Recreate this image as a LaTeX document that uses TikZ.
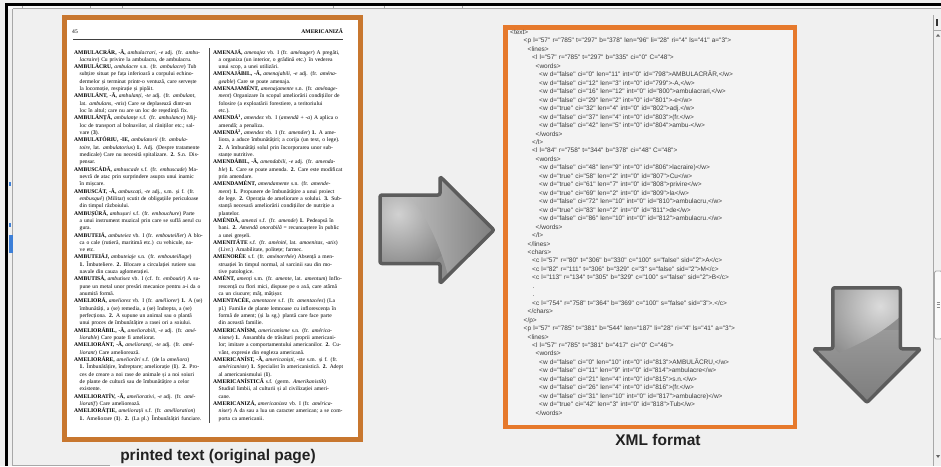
\documentclass[tikz,border=0pt]{standalone}
\usepackage{fontspec}
\usepackage{graphicx}
\newfontfamily\pagefont{Liberation Serif}
\newfontfamily\xmlfont{Liberation Sans}
\newfontfamily\capfont{Liberation Sans}
\definecolor{bg}{HTML}{F0F0F0}
\definecolor{pageorange}{HTML}{C8772F}
\definecolor{xmlorange}{HTML}{E6792C}
\definecolor{xmlfill}{HTML}{F3F3F3}
\definecolor{xmltextc}{HTML}{3A3A3A}
\definecolor{capc}{HTML}{222222}
\definecolor{arrowdark}{HTML}{5C5C5C}
\definecolor{uigrey}{HTML}{A8A8A8}
\definecolor{uiblue}{HTML}{3C7FD8}
\newlength\colw \setlength\colw{130pt}
\newlength\hangw \setlength\hangw{5.5pt}
\newlength\contw \setlength\contw{124.5pt}
\newsavebox\lnbox
\newcommand\fitline[3]{%
  \sbox\lnbox{#3}%
  \ifdim\wd\lnbox>#1\relax
    \resizebox{#1}{\height}{\usebox\lnbox}%
  \else
    \ifnum#2=0 \hbox to #1{\unhcopy\lnbox}\else\hbox to #1{\unhcopy\lnbox\hfil}\fi
  \fi}
\newcommand\lnF[1]{\noindent\fitline{\colw}{0}{#1}\par}
\newcommand\lnC[1]{\noindent\hspace*{\hangw}\fitline{\contw}{0}{#1}\par}
\newcommand\lnE[1]{\noindent\hspace*{\hangw}\fitline{\contw}{1}{#1}\par}
\newcommand\xind[1]{\hspace*{#1pt}}
\begin{document}
\begin{tikzpicture}[x=1pt,y=-1pt,
  pagebox/.style={draw=pageorange,line width=5pt,fill=white},
  xmlbox/.style={draw=xmlorange,line width=4.5pt,fill=xmlfill},
  captxt/.style={font=\capfont\bfseries\fontsize{15.5}{18}\selectfont,text=capc,inner sep=0pt,anchor=base},
  coltxt/.style={anchor=base west,inner sep=0pt,text width=130pt,font=\pagefont\fontsize{5.6}{7.32}\selectfont},
  hdrtxt/.style={inner sep=0pt,font=\pagefont\fontsize{5.6}{6.5}\selectfont},
  xmltxt/.style={anchor=base west,inner sep=0pt,text width=280pt,align=left,font=\xmlfont\fontsize{6.5}{8.46}\selectfont,text=xmltextc},
  arrowrim/.style={draw=arrowdark,line width=3.5pt,line join=round,rounded corners=2pt},
  uiline/.style={draw=uigrey,line width=0.8pt}]
\useasboundingbox (0,0) rectangle (941,466);
\fill[bg] (0,0) rectangle (941,466);

% window chrome
\fill[white!60!bg] (8,5.8) rectangle (941,8.8);
\fill[black] (5,3.2) rectangle (941,5.8);
\fill[black] (5.2,3.2) rectangle (8,466);
\draw[uiline] (12.5,8.8) -- (12.5,466);
\draw[uiline] (12.5,8.8) -- (941,8.8);
\foreach \tx in {22,90,122,333,384,462} \draw[uiline] (\tx,5.8) -- (\tx,8.8);
\fill[uiblue] (9.3,235) rectangle (13,253);
\fill[uiblue] (9.3,182) rectangle (10.5,186);
\fill[uiblue] (9.3,223) rectangle (10.5,227);
\draw[uiline] (13,465) -- (110,465);
\draw[uiline] (933,15) -- (933,466);
\draw[uiline] (933,30) -- (941,30);
\fill[black!80] (935.5,19) rectangle (937.5,26);
\fill[black!60] (936,36.5) -- (938,34) -- (940,36.5) -- cycle;
\draw[uiline,fill=white!70!bg,rounded corners=1.5pt] (934.5,271) rectangle (942,339);
\foreach \gy in {302,304.5,307} \draw[draw=black!45,line width=.5pt] (936.5,\gy) -- (939.5,\gy);
\fill[black!60] (936,455) -- (940,455) -- (938,458) -- cycle;

% printed page
\draw[pagebox] (64.5,17.5) rectangle (360.5,439.5);
\node[hdrtxt,anchor=base west] (pgno) at (72,33) {45};
\node[hdrtxt,anchor=base east,font=\pagefont\bfseries\fontsize{5.6}{6.5}\selectfont] (hdr) at (343,33) {AMERICANIZĂ};
\draw[line width=.9pt,black!75] (73,39.5) -- (343,39.5);
\draw[line width=.6pt,black!70] (209,48) -- (209,423);

\node[coltxt] (colL) at (74,54) {%
\lnF{\textbf{AMBULACRÁR, -Ă,} \textit{ambulacrari, -e} adj. (fr. \textit{ambu-}}
\lnE{\textit{lacraire}) Cu privire la ambulacru, de ambulacru.}
\lnF{\textbf{AMBULÁCRU,} \textit{ambulacre} s.n. (fr. \textit{ambulacre}) Tub}
\lnC{subțire situat pe fața inferioară a corpului echino-}
\lnC{dermelor și terminat printr-o ventuză, care servește}
\lnE{la locomoție, respirație și pipăit.}
\lnF{\textbf{AMBULÁNT, -Ă,} \textit{ambulanți, -te} adj. (fr. \textit{ambulant,}}
\lnC{lat. \textit{ambulans, -ntis}) Care se deplasează dintr-un}
\lnE{loc în altul; care nu are un loc de reședință fix.}
\lnF{\textbf{AMBULÁNȚĂ,} \textit{ambulanțe} s.f. (fr. \textit{ambulance}) Mij-}
\lnC{loc de transport al bolnavilor, al răniților etc.; sal-}
\lnE{vare (\textbf{3}).}
\lnF{\textbf{AMBULATÓRIU, -IE,} \textit{ambulatorii} (fr. \textit{ambula-}}
\lnC{\textit{toire,} lat. \textit{ambulatorius}) \textbf{1.} Adj. (Despre tratamente}
\lnC{medicale) Care nu necesită spitalizare. \textbf{2.} S.n. Dis-}
\lnE{pensar.}
\lnF{\textbf{AMBUSCÁDĂ,} \textit{ambuscade} s.f. (fr. \textit{embuscade}) Ma-}
\lnC{nevră de atac prin surprindere asupra unui inamic}
\lnE{în mișcare.}
\lnF{\textbf{AMBUSCÁT, -Ă,} \textit{ambuscați, -te} adj., s.m. și f. (fr.}
\lnC{\textit{embusqué}) (Militar) scutit de obligațiile periculoase}
\lnE{din timpul războiului.}
\lnF{\textbf{AMBUȘÚRĂ,} \textit{ambușuri} s.f. (fr. \textit{embouchure}) Parte}
\lnC{a unui instrument muzical prin care se suflă aerul cu}
\lnE{gura.}
\lnF{\textbf{AMBUTEIÁ,} \textit{ambuteiez} vb. I (fr. \textit{embouteiller}) A blo-}
\lnC{ca o cale (rutieră, maritimă etc.) cu vehicule, na-}
\lnE{ve etc.}
\lnF{\textbf{AMBUTEIÁJ,} \textit{ambuteiaje} s.n. (fr. \textit{embouteillage})}
\lnC{\textbf{1.} Îmbuteliere. \textbf{2.} Blocare a circulației rutiere sau}
\lnE{navale din cauza aglomerației.}
\lnF{\textbf{AMBUTISÁ,} \textit{ambutisez} vb. I (cf. fr. \textit{emboutir}) A su-}
\lnC{pune un metal unor presări mecanice pentru a-i da o}
\lnE{anumită formă.}
\lnF{\textbf{AMELIORÁ,} \textit{ameliorez} vb. I (fr. \textit{améliorer}) \textbf{1.} A (se)}
\lnC{îmbunătăți, a (se) remedia, a (se) îndrepta, a (se)}
\lnC{perfecționa. \textbf{2.} A supune un animal sau o plantă}
\lnE{unui proces de îmbunătățire a rasei ori a soiului.}
\lnF{\textbf{AMELIORÁBIL, -Ă,} \textit{ameliorabili, -e} adj. (fr. \textit{amé-}}
\lnE{\textit{liorable}) Care poate fi ameliorat.}
\lnF{\textbf{AMELIORÁNT, -Ă,} \textit{amelioranți, -te} adj. (fr. \textit{amé-}}
\lnE{\textit{liorant}) Care ameliorează.}
\lnF{\textbf{AMELIORÁRE,} \textit{ameliorări} s.f. (de la \textit{ameliora})}
\lnC{\textbf{1.} Îmbunătățire, îndreptare; ameliorație (\textbf{1}). \textbf{2.} Pro-}
\lnC{ces de creare a noi rase de animale și a noi soiuri}
\lnC{de plante de cultură sau de îmbunătățire a celor}
\lnE{existente.}
\lnF{\textbf{AMELIORATÍV, -Ă,} \textit{ameliorativi, -e} adj. (fr. \textit{amé-}}
\lnE{\textit{lioratif}) Care ameliorează.}
\lnF{\textbf{AMELIORÁȚIE,} \textit{ameliorații} s.f. (fr. \textit{amélioration})}
\lnE{\textbf{1.} Ameliorare (\textbf{1}). \textbf{2.} (La pl.) Îmbunătățiri funciare.}
};

\node[coltxt] (colR) at (213,54) {%
\lnF{\textbf{AMENAJÁ,} \textit{amenajez} vb. I (fr. \textit{aménager}) A pregăti,}
\lnC{a organiza (un interior, o grădină etc.) în vederea}
\lnE{unui scop, a unei utilizări.}
\lnF{\textbf{AMENAJÁBIL, -Ă,} \textit{amenajabili, -e} adj. (fr. \textit{aména-}}
\lnE{\textit{geable}) Care se poate amenaja.}
\lnF{\textbf{AMENAJAMÉNT,} \textit{amenajamente} s.n. (fr. \textit{aménage-}}
\lnC{\textit{ment}) Organizare în scopul ameliorării condițiilor de}
\lnC{folosire (a exploatării forestiere, a teritoriului}
\lnE{etc.).}
\lnF{\textbf{AMENDÁ\textsuperscript{1},} \textit{amendez} vb. I (\textit{amendă} + \textit{-a}) A aplica o}
\lnE{amendă; a penaliza.}
\lnF{\textbf{AMENDÁ\textsuperscript{2},} \textit{amendez} vb. I (fr. \textit{amender}) \textbf{1.} A ame-}
\lnC{liora, a aduce îmbunătățiri; a corija (un text, o lege).}
\lnC{\textbf{2.} A îmbunătăți solul prin încorporarea unor sub-}
\lnE{stanțe nutritive.}
\lnF{\textbf{AMENDÁBIL, -Ă,} \textit{amendabili, -e} adj. (fr. \textit{amenda-}}
\lnC{\textit{ble}) \textbf{1.} Care se poate amenda. \textbf{2.} Care este modificat}
\lnE{prin amendare.}
\lnF{\textbf{AMENDAMÉNT,} \textit{amendamente} s.n. (fr. \textit{amende-}}
\lnC{\textit{ment}) \textbf{1.} Propunere de îmbunătățire a unui proiect}
\lnC{de lege. \textbf{2.} Operația de ameliorare a solului. \textbf{3.} Sub-}
\lnC{stanță necesară ameliorării condițiilor de nutriție a}
\lnE{plantelor.}
\lnF{\textbf{AMÉNDĂ,} \textit{amenzi} s.f. (fr. \textit{amende}) \textbf{1.} Pedeapsă în}
\lnC{bani. \textbf{2.} \textit{Amendă onorabilă} = recunoaștere în public}
\lnE{a unei greșeli.}
\lnF{\textbf{AMENITÁTE} s.f. (fr. \textit{aménité}, lat. \textit{amoenitas, -atis})}
\lnE{(Livr.) Amabilitate, politețe; farmec.}
\lnF{\textbf{AMENORÉE} s.f. (fr. \textit{aménorrhée}) Absență a men-}
\lnC{struației în timpul normal, al sarcinii sau din mo-}
\lnE{tive patologice.}
\lnF{\textbf{AMÉNT,} \textit{amenți} s.m. (fr. \textit{amente}, lat. \textit{amentum}) Inflo-}
\lnC{rescență cu flori mici, dispuse pe o axă, care atârnă}
\lnE{ca un ciucure; mâț, mâțișor.}
\lnF{\textbf{AMENTACÉE,} \textit{amentacee} s.f. (fr. \textit{amentacées}) (La}
\lnC{pl.) Familie de plante lemnoase cu inflorescența în}
\lnC{formă de ament; (și la sg.) plantă care face parte}
\lnE{din această familie.}
\lnF{\textbf{AMERICANÍSM,} \textit{americanisme} s.n. (fr. \textit{américa-}}
\lnC{\textit{nisme}) \textbf{1.} Ansamblu de trăsături proprii americani-}
\lnC{lor; imitare a comportamentului americanilor. \textbf{2.} Cu-}
\lnE{vânt, expresie din engleza americană.}
\lnF{\textbf{AMERICANÍST, -Ă,} \textit{americaniști, -ste} s.m. și f. (fr.}
\lnC{\textit{américaniste}) \textbf{1.} Specialist în americanistică. \textbf{2.} Adept}
\lnE{al americanismului (\textbf{1}).}
\lnF{\textbf{AMERICANÍSTICĂ} s.f. (germ. \textit{Amerikanistik})}
\lnC{Studiul limbii, al culturii și al civilizației ameri-}
\lnE{cane.}
\lnF{\textbf{AMERICANIZÁ,} \textit{americanizez} vb. I (fr. \textit{américa-}}
\lnC{\textit{niser}) A da sau a lua un caracter american; a se com-}
\lnE{porta ca americanii.}
};

\node[captxt] (capL) at (218,460) {printed text (original page)};

% XML box
\draw[xmlbox] (505.25,27.25) rectangle (794.75,426.75);
\node[xmltxt] (xml) at (510,34.5) {%
<text>\\
\xind{13.5}<p l="57" r="785" t="297" b="378" len="96" li="28" ri="4" ls="41" a="3">\\
\xind{17.5}<lines>\\
\xind{22}<l l="57" r="785" t="297" b="335" ci="0" C="48">\\
\xind{25.5}<words>\\
\xind{29}<w d="false" ci="0" len="11" int="0" id="798">AMBULACRĂR,</w>\\
\xind{29}<w d="false" ci="12" len="3" int="0" id="799">-A,</w>\\
\xind{29}<w d="false" ci="16" len="12" int="0" id="800">ambulacrari,</w>\\
\xind{29}<w d="false" ci="29" len="2" int="0" id="801">-e</w>\\
\xind{29}<w d="true" ci="32" len="4" int="0" id="802">adj.</w>\\
\xind{29}<w d="false" ci="37" len="4" int="0" id="803">(fr.</w>\\
\xind{29}<w d="false" ci="42" len="5" int="0" id="804">ambu-</w>\\
\xind{25.5}</words>\\
\xind{22}</l>\\
\xind{22}<l l="84" r="758" t="344" b="378" ci="48" C="48">\\
\xind{25.5}<words>\\
\xind{29}<w d="false" ci="48" len="9" int="0" id="806">lacraire)</w>\\
\xind{29}<w d="true" ci="58" len="2" int="0" id="807">Cu</w>\\
\xind{29}<w d="true" ci="61" len="7" int="0" id="808">privire</w>\\
\xind{29}<w d="true" ci="69" len="2" int="0" id="809">la</w>\\
\xind{29}<w d="false" ci="72" len="10" int="0" id="810">ambulacru,</w>\\
\xind{29}<w d="true" ci="83" len="2" int="0" id="811">de</w>\\
\xind{29}<w d="false" ci="86" len="10" int="0" id="812">ambulacru.</w>\\
\xind{25.5}</words>\\
\xind{22}</l>\\
\xind{17.5}</lines>\\
\xind{17.5}<chars>\\
\xind{22}<c l="57" r="80" t="306" b="330" c="100" s="false" sid="2">A</c>\\
\xind{22}<c l="82" r="111" t="306" b="329" c="3" s="false" sid="2">M</c>\\
\xind{22}<c l="113" r="134" t="305" b="329" c="100" s="false" sid="2">B</c>\\
\xind{22.5}.\\
\xind{22.5}.\\
\xind{22}<c l="754" r="758" t="364" b="369" c="100" s="false" sid="3">.</c>\\
\xind{17.5}</chars>\\
\xind{13.5}</p>\\
\xind{13.5}<p l="57" r="785" t="381" b="544" len="187" li="28" ri="4" ls="41" a="3">\\
\xind{17.5}<lines>\\
\xind{22}<l l="57" r="785" t="381" b="417" ci="0" C="46">\\
\xind{25.5}<words>\\
\xind{29}<w d="false" ci="0" len="10" int="0" id="813">AMBULĂCRU,</w>\\
\xind{29}<w d="false" ci="11" len="9" int="0" id="814">ambulacre</w>\\
\xind{29}<w d="false" ci="21" len="4" int="0" id="815">s.n.</w>\\
\xind{29}<w d="false" ci="26" len="4" int="0" id="816">(fr.</w>\\
\xind{29}<w d="false" ci="31" len="10" int="0" id="817">ambulacre)</w>\\
\xind{29}<w d="true" ci="42" len="3" int="0" id="818">Tub</w>\\
\xind{25.5}</words>
};
\node[captxt] (capR) at (658,445) {XML format};

% right arrow
\def\rarrow{(380,195) -- (440,195) -- (440,176.5) -- (494,230) -- (440,283.5) -- (440,263.5) -- (380,263.5) -- cycle}
\fill[black!45] \rarrow;
\begin{scope}
  \clip \rarrow;
  \shade[inner color=black!18, outer color=black!48] (398,214) circle (60);
  \shade[left color=black!25, right color=black!52]
    (403,188) .. controls (425,212) and (442,245) .. (452,292) -- (500,292) -- (500,170) -- cycle;
\end{scope}
\draw[arrowrim] \rarrow;

% down arrow
\def\darrow{(832.75,287.75) -- (900.25,287.75) -- (900.25,348.75) -- (920.5,348.75) -- (867,402.5) -- (813.5,348.75) -- (832.75,348.75) -- cycle}
\fill[black!44] \darrow;
\begin{scope}
  \clip \darrow;
  \shade[top color=black!40, bottom color=black!52] (810,330) rectangle (925,410);
  \begin{scope}
    \clip (825,280) -- (905,280) -- (905,312) .. controls (880,336) and (855,346) .. (822,360) -- cycle;
    \shade[inner color=black!14, outer color=black!45] (880,306) circle (62);
  \end{scope}
\end{scope}
\draw[arrowrim] \darrow;
\end{tikzpicture}
\end{document}
